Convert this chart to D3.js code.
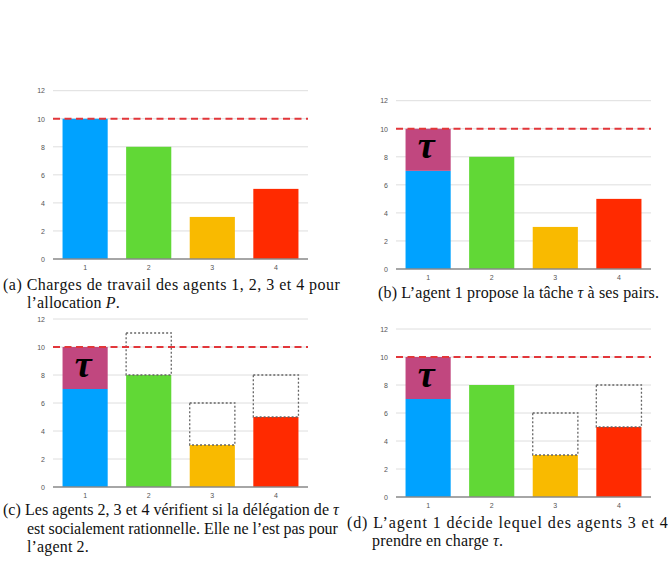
<!DOCTYPE html>
<html>
<head>
<meta charset="utf-8">
<script src="https://cdn.jsdelivr.net/npm/d3@7/dist/d3.min.js"></script>
<style>
  html, body { margin: 0; padding: 0; background: #fff; }
  svg { display: block; }
</style>
</head>
<body>
<svg id="chart" width="672" height="566"></svg>
<script>
// ---------- data ----------
const agents = ["1", "2", "3", "4"];
const loadsP = [10, 8, 3, 5];          // (a) allocation P
const loadsWithoutTau = [7, 8, 3, 5];   // agent 1 without τ
const tauCost = 3;
const threshold = 10;
const yTicks = [0, 2, 4, 6, 8, 10, 12];
const candidatesC = ["2", "3", "4"];
const candidatesD = ["3", "4"];

// ---------- styles ----------
const barColors = ["#00a2ff", "#61d836", "#f9ba00", "#ff2a00"];
const tauColor = "#c1477f";

const svg = d3.select("#chart");

const panels = [
  { id: "a", x0: 53, x1: 308, yTop: 90.7, yBot: 259, showTau: false, candidates: [] },
  { id: "b", x0: 396, x1: 651, yTop: 100.7, yBot: 269, showTau: true, candidates: [] },
  { id: "c", x0: 53, x1: 308, yTop: 319, yBot: 487, showTau: true, candidates: candidatesC },
  { id: "d", x0: 396, x1: 651, yTop: 329, yBot: 497, showTau: true, candidates: candidatesD }
];

panels.forEach(p => {
  const g = svg.append("g");
  const x = d3.scaleBand().domain(agents).range([p.x0, p.x1]).paddingInner(0.29).paddingOuter(0.15);
  const y = d3.scaleLinear().domain([0, 12]).range([p.yBot, p.yTop]);

  // grid lines
  g.selectAll("line.grid").data(yTicks.filter(t => t > 0)).join("line")
    .attr("x1", p.x0).attr("x2", p.x1)
    .attr("y1", d => y(d)).attr("y2", d => y(d))
    .attr("stroke", "#dedede").attr("stroke-width", 1);

  // y axis labels
  const yAxis = d3.axisLeft(y).tickValues(yTicks).tickSize(0).tickPadding(8);
  const ya = g.append("g").attr("transform", `translate(${p.x0},0)`).call(yAxis);
  ya.select(".domain").remove();
  ya.selectAll("text").attr("font-family", "Liberation Sans, Arial, sans-serif")
    .attr("font-size", 7).attr("fill", "#555");

  // bars
  const base = p.showTau ? loadsWithoutTau : loadsP;
  g.selectAll("rect.bar").data(agents).join("rect")
    .attr("x", d => x(d)).attr("width", x.bandwidth())
    .attr("y", (d, i) => y(base[i])).attr("height", (d, i) => y(0) - y(base[i]))
    .attr("fill", (d, i) => barColors[i]);

  if (p.showTau) {
    const a1 = agents[0];
    g.append("rect")
      .attr("x", x(a1)).attr("width", x.bandwidth())
      .attr("y", y(base[0] + tauCost)).attr("height", y(base[0]) - y(base[0] + tauCost))
      .attr("fill", tauColor);
    g.append("text")
      .attr("x", x(a1) + x.bandwidth() / 2 - 2)
      .attr("y", (y(base[0]) + y(base[0] + tauCost)) / 2 + 8.5)
      .attr("text-anchor", "middle")
      .attr("font-family", "Liberation Serif, serif")
      .attr("font-style", "italic").attr("font-weight", "bold")
      .attr("font-size", 38).attr("fill", "#000")
      .text("τ");
  }

  // dotted candidate boxes
  g.selectAll("rect.cand").data(p.candidates).join("rect")
    .attr("x", d => x(d)).attr("width", x.bandwidth())
    .attr("y", d => y(base[agents.indexOf(d)] + tauCost))
    .attr("height", d => y(base[agents.indexOf(d)]) - y(base[agents.indexOf(d)] + tauCost))
    .attr("fill", "none").attr("stroke", "#666").attr("stroke-width", 1.3)
    .attr("stroke-dasharray", "2,2");

  // baseline
  g.append("line").attr("x1", p.x0).attr("x2", p.x1)
    .attr("y1", y(0)).attr("y2", y(0))
    .attr("stroke", "#888").attr("stroke-width", 1.3);

  // x axis labels
  const xAxis = d3.axisBottom(x).tickSize(0).tickPadding(6);
  const xa = g.append("g").attr("transform", `translate(0,${y(0)})`).call(xAxis);
  xa.select(".domain").remove();
  xa.selectAll("text").attr("font-family", "Liberation Sans, Arial, sans-serif")
    .attr("font-size", 7).attr("fill", "#555");

  // threshold line
  g.append("line").attr("x1", p.x0).attr("x2", p.x1)
    .attr("y1", y(threshold)).attr("y2", y(threshold))
    .attr("stroke", "#e2363a").attr("stroke-width", 2)
    .attr("stroke-dasharray", "7,4.5");
});

// ---------- captions ----------
const capFont = "Liberation Serif, 'DejaVu Serif', serif";
function capLine(x, yb, parts, len) {
  const t = svg.append("text").attr("x", x).attr("y", yb)
    .attr("font-family", capFont).attr("font-size", 16).attr("fill", "#111")
    .attr("letter-spacing", 0.15)
    .attr("xml:space", "preserve");
  parts.forEach(pt => {
    const s = t.append("tspan").text(pt.t);
    if (pt.i) s.attr("font-style", "italic");
  });
  if (len) t.attr("textLength", len).attr("lengthAdjust", "spacing");
  return t;
}
capLine(3, 290, [{ t: "(a) Charges de travail des agents 1, 2, 3 et 4 pour" }], 337);
capLine(27, 308, [{ t: "l’allocation " }, { t: "P", i: true }, { t: "." }]);
capLine(378, 298, [{ t: "(b) L’agent 1 propose la tâche " }, { t: "τ", i: true }, { t: " à ses pairs." }]);
capLine(3, 515, [{ t: "(c) Les agents 2, 3 et 4 vérifient si la délégation de " }, { t: "τ", i: true }], 336);
capLine(27, 534, [{ t: "est socialement rationnelle. Elle ne l’est pas pour" }], 311);
capLine(27, 552, [{ t: "l’agent 2." }]);
capLine(347, 528, [{ t: "(d) L’agent 1 décide lequel des agents 3 et 4" }], 321);
capLine(372, 546, [{ t: "prendre en charge " }, { t: "τ", i: true }, { t: "." }]);
</script>
</body>
</html>
